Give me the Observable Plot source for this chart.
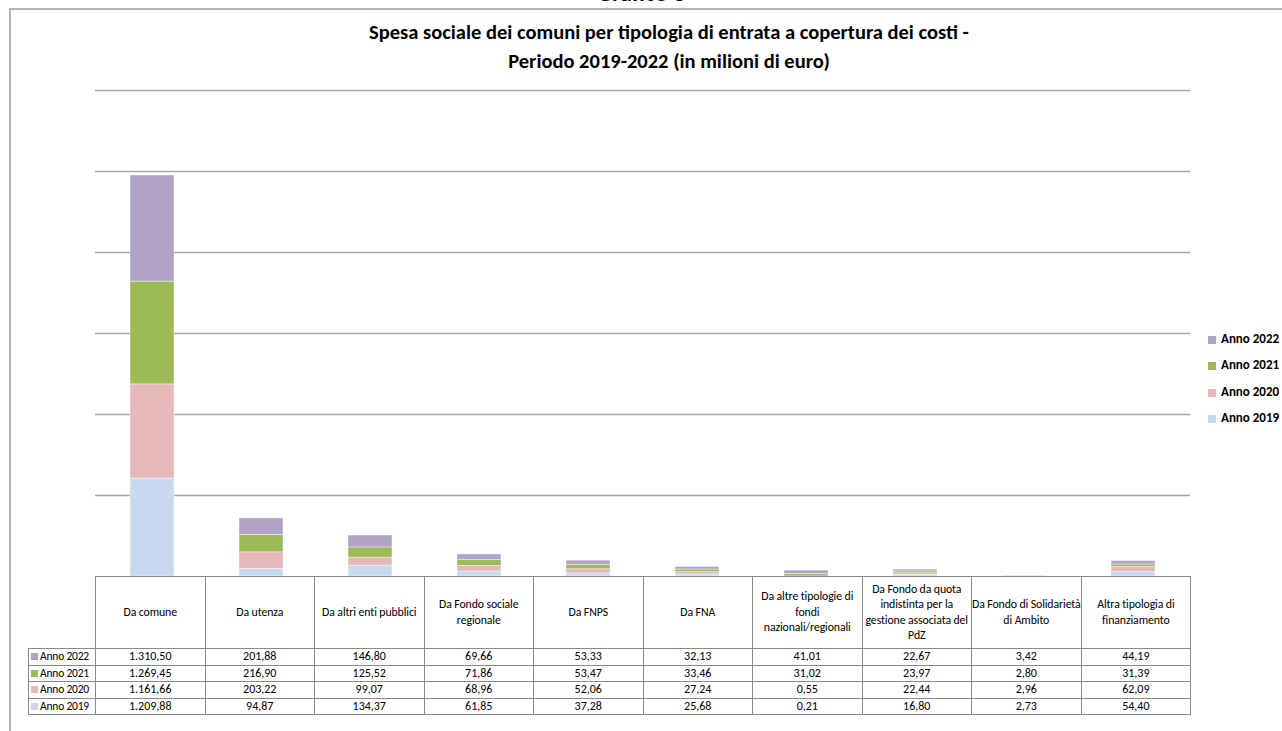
<!DOCTYPE html>
<html>
<head>
<meta charset="utf-8">
<script src="https://cdn.jsdelivr.net/npm/d3@7"></script>
<script src="https://cdn.jsdelivr.net/npm/@observablehq/plot@0.6"></script>
<style>
  html, body { margin: 0; padding: 0; background: #fff; overflow: hidden; }
  body { width: 1282px; height: 731px; position: relative;
         font-family: Carlito, Lato, sans-serif; }
  #frame { position: absolute; left: 9px; top: 8px; width: 1300px; height: 800px;
           border-left: 2px solid #b4b4b4; border-top: 2px solid #b4b4b4; box-sizing: border-box; }
  #top { position: absolute; left: 0; width: 1282px; top: -21px; height: 28px; line-height: 28px; text-align: center;
         font-weight: bold; font-size: 24px; color: #000; }
  #title { position: absolute; left: 319px; width: 700px; top: 18px; text-align: center;
           font-weight: bold; font-size: 20.5px; line-height: 29px; color: #000; }
  #chart { position: absolute; left: 0; top: 0; }
  #legend { position: absolute; left: 1208px; top: 331px; font-size: 13px; font-weight: bold; }
  #legend .it { height: 26.3px; display: flex; align-items: flex-start; white-space: nowrap; }
  #legend .sw { width: 8px; height: 8px; margin-right: 5px; margin-top: 5px; }
  #tbl { position: absolute; left: 28px; top: 576px; border-collapse: collapse; table-layout: fixed;
         font-size: 12px; color: #000; }
  #tbl td { border: 1px solid #8a8a8a; text-align: center; padding: 0; height: 15.6px; line-height: 15px; overflow: hidden; }
  #tbl tr.h td { height: 71px; white-space: pre; font-size: 11.8px; line-height: 15.5px; overflow: visible; letter-spacing: -0.1px; }
  #tbl td.blank { border-top: none; border-left: none; }
  #tbl td.rl { text-align: left; white-space: nowrap; padding-left: 2px; font-size: 11.5px; letter-spacing: -0.2px; }
  #tbl .sw { display: inline-block; width: 7px; height: 7px; margin-right: 2px; }
</style>
</head>
<body>
<div id="frame"></div>
<div id="top">Grafico 3</div>
<div id="title">Spesa sociale dei comuni per tipologia di entrata a copertura dei costi -<br>Periodo 2019-2022 (in milioni di euro)</div>
<div id="chart"></div>
<div id="legend"></div>
<table id="tbl"></table>
<script>
const categories = ["Da comune","Da utenza","Da altri enti pubblici","Da Fondo sociale regionale","Da FNPS","Da FNA","Da altre tipologie di fondi nazionali/regionali","Da Fondo da quota indistinta per la gestione associata del PdZ","Da Fondo di Solidarietà di Ambito","Altra tipologia di finanziamento"];
const headerLabels = ["Da comune","Da utenza","Da altri enti pubblici","Da Fondo sociale\nregionale","Da FNPS","Da FNA","Da altre tipologie di\nfondi\nnazionali/regionali","Da Fondo da quota\nindistinta per la\ngestione associata del\nPdZ","Da Fondo di Solidarietà\ndi Ambito","Altra tipologia di\nfinanziamento"];
const series = ["Anno 2019","Anno 2020","Anno 2021","Anno 2022"];
const colors = ["#c6d9f0","#e6b9b8","#9bbb59","#b3a2c7"];
const v2019 = [1209.88,94.87,134.37,61.85,37.28,25.68,0.21,16.80,2.73,54.40];
const v2020 = [1161.66,203.22,99.07,68.96,52.06,27.24,0.55,22.44,2.96,62.09];
const v2021 = [1269.45,216.90,125.52,71.86,53.47,33.46,31.02,23.97,2.80,31.39];
const v2022 = [1310.50,201.88,146.80,69.66,53.33,32.13,41.01,22.67,3.42,44.19];
const gridTicks = [1000,2000,3000,4000,5000,6000];

const valuesBySeries = [v2019, v2020, v2021, v2022];
const data = [];
categories.forEach((c, i) => {
  series.forEach((s, j) => data.push({cat: c, serie: s, value: valuesBySeries[j][i]}));
});

const chart = Plot.plot({
  width: 1282,
  height: 580,
  marginTop: 90,
  marginBottom: 4,
  marginLeft: 95,
  marginRight: 92,
  x: {domain: categories, paddingInner: 0.6, paddingOuter: 0.3, axis: null},
  y: {domain: [0, 6000], axis: null},
  color: {domain: series, range: colors},
  marks: [
    Plot.ruleY(gridTicks, {stroke: "#a6a6a6", strokeWidth: 1.5}),
    Plot.barY(data, {x: "cat", y: "value", fill: "serie", stroke: "#ffffff", strokeWidth: 0.6, strokeOpacity: 0.7})
  ]
});
chart.style.background = "transparent";
document.getElementById("chart").appendChild(chart);

// legend (top to bottom: 2022 ... 2019)
const leg = document.getElementById("legend");
for (let j = series.length - 1; j >= 0; j--) {
  const it = document.createElement("div"); it.className = "it";
  const sw = document.createElement("span"); sw.className = "sw"; sw.style.background = colors[j];
  it.appendChild(sw); it.appendChild(document.createTextNode(series[j]));
  leg.appendChild(it);
}

// data table
const loc = d3.formatLocale({decimal: ",", thousands: ".", grouping: [3], currency: ["", "€"]});
const fmt = loc.format(",.2f");
const tbl = document.getElementById("tbl");
const colg = document.createElement("colgroup");
const c0 = document.createElement("col"); c0.style.width = "67px"; colg.appendChild(c0);
categories.forEach(() => { const c = document.createElement("col"); c.style.width = "109.5px"; colg.appendChild(c); });
tbl.appendChild(colg);
const hr = document.createElement("tr"); hr.className = "h";
const blank = document.createElement("td"); blank.className = "blank"; hr.appendChild(blank);
headerLabels.forEach(h => { const td = document.createElement("td"); td.textContent = h; hr.appendChild(td); });
tbl.appendChild(hr);
for (let j = series.length - 1; j >= 0; j--) {
  const tr = document.createElement("tr");
  const rl = document.createElement("td"); rl.className = "rl";
  const sw = document.createElement("span"); sw.className = "sw"; sw.style.background = colors[j];
  rl.appendChild(sw); rl.appendChild(document.createTextNode(series[j]));
  tr.appendChild(rl);
  valuesBySeries[j].forEach(v => { const td = document.createElement("td"); td.textContent = fmt(v); tr.appendChild(td); });
  tbl.appendChild(tr);
}
</script>
</body>
</html>
